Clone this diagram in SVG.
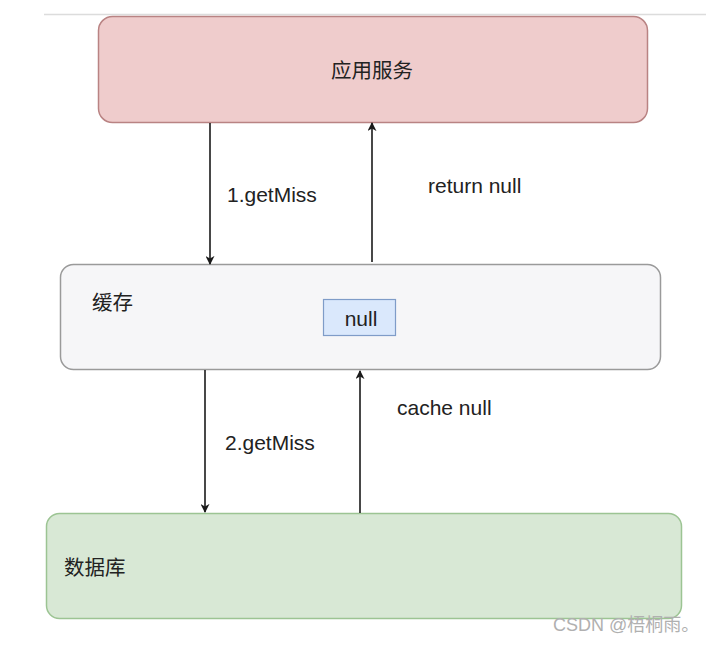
<svg xmlns="http://www.w3.org/2000/svg" width="706" height="645" viewBox="0 0 706 645">
<defs>
<style>
.lbl{font-family:"Liberation Sans","Noto Sans CJK SC",sans-serif;font-size:21px;fill:#222;}
.cjk{font-family:"Noto Sans CJK SC","Liberation Sans",sans-serif;font-size:20.5px;fill:#222;}
.conn{stroke:#1a1a1a;stroke-width:1.6;fill:none;marker-end:url(#ah);}
</style>
<marker id="ah" viewBox="0 0 10 10" refX="9" refY="5" markerWidth="9" markerHeight="9" markerUnits="userSpaceOnUse" orient="auto">
<path d="M0,0 L10,5 L0,10 L3,5 z" fill="#1a1a1a"/>
</marker>
</defs>
<rect width="706" height="645" fill="#ffffff"/>
<line x1="44" y1="14.5" x2="706" y2="14.5" stroke="#dcdcdc" stroke-width="1.5"/>
<g id="app">
<rect x="98.5" y="16.5" width="549" height="106" rx="14" fill="#efcccc" stroke="#b98383" stroke-width="1.5"/>
<text class="cjk" x="372" y="78" text-anchor="middle">应用服务</text>
</g>
<g id="cache">
<rect x="60.5" y="264.5" width="600" height="105" rx="13" fill="#f6f6f8" stroke="#9a9a9a" stroke-width="1.5"/>
<text class="cjk" x="92" y="310">缓存</text>
</g>
<g id="nullbox">
<rect x="323.5" y="299.5" width="72" height="36" fill="#dae8fc" stroke="#7f9cc8" stroke-width="1.2"/>
<text class="lbl" x="361" y="326" text-anchor="middle">null</text>
</g>
<g id="db">
<rect x="46.5" y="513.5" width="635" height="105" rx="13" fill="#d8e8d5" stroke="#9cc493" stroke-width="1.5"/>
<text class="cjk" x="64" y="575">数据库</text>
</g>
<g id="connectors">
<line class="conn" x1="210" y1="123" x2="210" y2="264"/>
<line class="conn" x1="372" y1="262" x2="372" y2="123"/>
<line class="conn" x1="205" y1="370" x2="205" y2="512"/>
<line class="conn" x1="360" y1="513" x2="360" y2="371"/>
<text class="lbl" x="227" y="202">1.getMiss</text>
<text class="lbl" x="428" y="193">return null</text>
<text class="lbl" x="225" y="450">2.getMiss</text>
<text class="lbl" x="397" y="415">cache null</text>
</g>
<text x="553" y="631" font-family="Liberation Sans,Noto Sans CJK SC,sans-serif" font-size="18" fill="#b0b0b0">CSDN @梧桐雨。</text>
</svg>
